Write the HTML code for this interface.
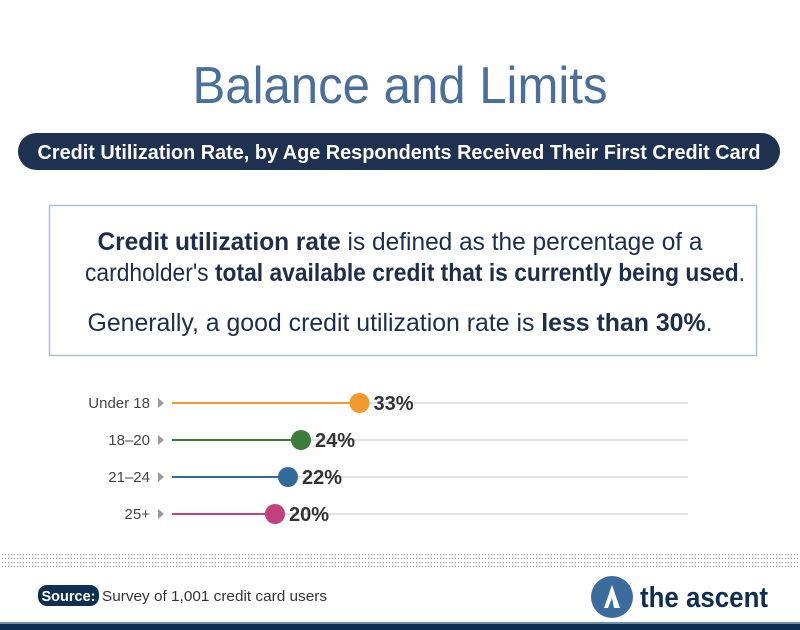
<!DOCTYPE html>
<html><head><meta charset="utf-8"><style>
body{margin:0;background:#fff}
svg{display:block}
text{font-family:"Liberation Sans Narrow","Liberation Sans",sans-serif}
</style></head><body>
<svg id="chart" width="800" height="630" viewBox="0 0 800 630">
<text x="400" y="103" text-anchor="middle" font-size="52" fill="#4a6f9c" textLength="415" lengthAdjust="spacingAndGlyphs">Balance and Limits</text>
<rect x="18" y="133" width="762" height="37" rx="18.5" fill="#1f3150"/>
<text x="399" y="159" text-anchor="middle" font-size="20" font-weight="bold" fill="#fff" textLength="723" lengthAdjust="spacingAndGlyphs">Credit Utilization Rate, by Age Respondents Received Their First Credit Card</text>
<rect x="49.5" y="205.5" width="707" height="150" fill="#fff" stroke="#a9c0d8" stroke-width="1.5"/>
<g font-size="25" fill="#1d2d4a" font-family="Liberation Sans,sans-serif">
<text x="400" y="250" text-anchor="middle" textLength="605" lengthAdjust="spacingAndGlyphs"><tspan font-weight="bold">Credit utilization rate</tspan> is defined as the percentage of a</text>
<text x="415" y="281" text-anchor="middle" textLength="660" lengthAdjust="spacingAndGlyphs">cardholder's <tspan font-weight="bold">total available credit that is currently being used</tspan>.</text>
<text x="400" y="331" text-anchor="middle" textLength="625" lengthAdjust="spacingAndGlyphs">Generally, a good credit utilization rate is <tspan font-weight="bold">less than 30%</tspan>.</text>
</g>
<g id="plot"></g>
<g id="dots"></g>
<rect x="38" y="585" width="61" height="21" rx="9" fill="#0e2f52"/>
<text x="68.5" y="601" text-anchor="middle" font-size="15" font-weight="bold" fill="#fff" textLength="54" lengthAdjust="spacingAndGlyphs">Source:</text>
<text x="102" y="601" font-size="15" fill="#333" textLength="225" lengthAdjust="spacingAndGlyphs">Survey of 1,001 credit card users</text>
<circle cx="612" cy="597" r="21" fill="#3a6d9c"/>
<path d="M604 608 L612 585 L620 608 L614 608 L612 598 L608 608 Z" fill="#fff"/>
<text x="640" y="607" font-size="29" font-weight="bold" fill="#0e2f52" textLength="128" lengthAdjust="spacingAndGlyphs" font-family="Liberation Sans,sans-serif">the ascent</text>
<rect x="0" y="622" width="800" height="2" fill="#6f8fae"/>
<rect x="0" y="624" width="800" height="6" fill="#0e2f52"/>
</svg>
<script>
const categories=["Under 18","18–20","21–24","25+"];
const values=[33,24,22,20];
const labels=["33%","24%","22%","20%"];
const colors=["#f29a2e","#3b7d3a","#326a9c","#c4417f"];
const NS="http://www.w3.org/2000/svg";
function x(v){return 145+v*6.5;}
function y(i){return 403+i*37;}
const g=document.getElementById('plot');
function mk(t,a,p){const e=document.createElementNS(NS,t);for(const k in a)e.setAttribute(k,a[k]);(p||g).appendChild(e);return e;}
categories.forEach((c,i)=>{
 const yy=y(i);
 const tr=mk('line',{x1:172,x2:688,y1:yy,y2:yy,stroke:'#e2e2e2','stroke-width':2});
 
 
 const lb=mk('text',{x:150,y:yy+5,'text-anchor':'end','font-size':15,fill:'#444'});
 lb.textContent=c;
 
 
 const ar=mk('path',{d:`M158 ${yy-5} L164 ${yy} L158 ${yy+5} Z`,fill:'#999'});
 
 
 const ln=mk('line',{x1:172,x2:x(values[i]),y1:yy,y2:yy,stroke:colors[i],'stroke-width':2});
 
 
 const dt=mk('circle',{cx:x(values[i]),cy:yy,r:10,fill:colors[i]});
 
 
 const vl=mk('text',{x:x(values[i])+14,y:yy+7,'font-size':20,'font-weight':'bold',fill:'#333'});
 vl.textContent=labels[i];
 
 
});
const d=document.getElementById('dots');
for(let r=0;r<4;r++){for(let xx=2;xx<800;xx+=3){const e=mk('rect',{x:xx,y:554+r*4,width:1,height:1,fill:'#999'},d);}}
</script>
</body></html>
